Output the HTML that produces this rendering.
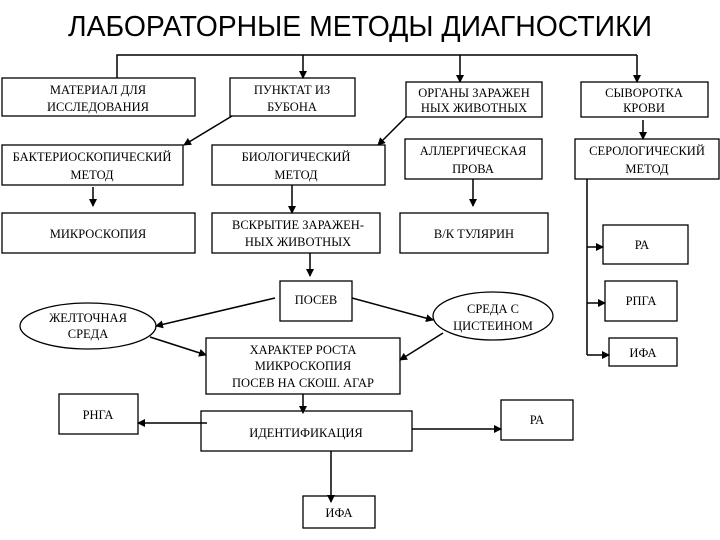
<!DOCTYPE html>
<html><head><meta charset="utf-8"><style>
html,body{margin:0;padding:0;background:#fff;width:720px;height:540px;overflow:hidden}
svg{display:block}
text{font-family:"Liberation Serif",serif;font-size:12.5px;fill:#000}
</style></head><body>
<svg width="720" height="540" viewBox="0 0 720 540" xmlns="http://www.w3.org/2000/svg">
<defs><marker id="a" markerWidth="8" markerHeight="8" refX="7" refY="4" orient="auto" markerUnits="userSpaceOnUse"><path d="M0,0 L8,4 L0,8 z" fill="#000"/></marker></defs>
<text x="360" y="36" text-anchor="middle" style="font-family:'Liberation Sans',sans-serif;font-size:29px" textLength="584" lengthAdjust="spacingAndGlyphs">ЛАБОРАТОРНЫЕ МЕТОДЫ ДИАГНОСТИКИ</text>
<g fill="none" stroke="#000" stroke-width="1.3">
<rect x="2" y="78" width="193" height="38"/>
<rect x="230" y="78" width="125" height="38"/>
<rect x="406" y="82" width="136" height="35"/>
<rect x="581" y="82" width="127" height="35"/>
<rect x="2" y="145" width="181" height="40"/>
<rect x="212" y="145" width="173" height="40"/>
<rect x="405" y="139" width="137" height="40"/>
<rect x="575" y="139" width="144" height="40"/>
<rect x="2" y="213" width="193" height="40"/>
<rect x="212" y="213" width="168" height="40"/>
<rect x="400" y="213" width="148" height="40"/>
<rect x="603" y="225" width="85" height="39"/>
<rect x="280" y="281" width="72" height="40"/>
<ellipse cx="88" cy="326" rx="68" ry="23"/>
<ellipse cx="493" cy="316" rx="60" ry="24"/>
<rect x="605" y="281" width="72" height="40"/>
<rect x="609" y="338" width="68" height="28"/>
<rect x="206" y="338" width="194" height="56"/>
<rect x="59" y="394" width="79" height="40"/>
<rect x="201" y="411" width="211" height="40"/>
<rect x="501" y="400" width="72" height="40"/>
<rect x="303" y="496" width="72" height="32"/>
</g>
<g fill="none" stroke="#000" stroke-width="1.5">
<polyline points="117,78 117,55 637,55"/>
<line x1="303" y1="55" x2="303" y2="78" marker-end="url(#a)"/>
<line x1="460" y1="55" x2="460" y2="82" marker-end="url(#a)"/>
<line x1="637" y1="55" x2="637" y2="82" marker-end="url(#a)"/>
<line x1="232" y1="116" x2="184" y2="145" marker-end="url(#a)"/>
<line x1="406" y1="117" x2="378" y2="145" marker-end="url(#a)"/>
<line x1="643" y1="120" x2="643" y2="139" marker-end="url(#a)"/>
<line x1="93" y1="187" x2="93" y2="206" marker-end="url(#a)"/>
<line x1="292" y1="185" x2="292" y2="213" marker-end="url(#a)"/>
<line x1="473" y1="179" x2="473" y2="206" marker-end="url(#a)"/>
<line x1="310" y1="253" x2="310" y2="276" marker-end="url(#a)"/>
<polyline points="587,179 587,355"/>
<line x1="587" y1="247" x2="603" y2="247" marker-end="url(#a)"/>
<line x1="587" y1="303" x2="605" y2="303" marker-end="url(#a)"/>
<line x1="587" y1="355" x2="609" y2="355" marker-end="url(#a)"/>
<line x1="275" y1="298" x2="156" y2="326" marker-end="url(#a)"/>
<line x1="150" y1="337" x2="206" y2="355" marker-end="url(#a)"/>
<line x1="352" y1="298" x2="433" y2="320" marker-end="url(#a)"/>
<line x1="443" y1="333" x2="400" y2="360" marker-end="url(#a)"/>
<line x1="303" y1="394" x2="303" y2="413" marker-end="url(#a)"/>
<line x1="207" y1="423" x2="138" y2="423" marker-end="url(#a)"/>
<line x1="412" y1="429" x2="501" y2="429" marker-end="url(#a)"/>
<line x1="331" y1="451" x2="331" y2="502" marker-end="url(#a)"/>
</g>
<g text-anchor="middle">
<text x="98" y="94">МАТЕРИАЛ ДЛЯ</text><text x="98" y="111">ИССЛЕДОВАНИЯ</text>
<text x="292" y="94">ПУНКТАТ ИЗ</text><text x="292" y="111">БУБОНА</text>
<text x="474" y="97">ОРГАНЫ ЗАРАЖЕН</text><text x="474" y="112">НЫХ ЖИВОТНЫХ</text>
<text x="644" y="97">СЫВОРОТКА</text><text x="644" y="112">КРОВИ</text>
<text x="92" y="161">БАКТЕРИОСКОПИЧЕСКИЙ</text><text x="92" y="179">МЕТОД</text>
<text x="296" y="161">БИОЛОГИЧЕСКИЙ</text><text x="296" y="179">МЕТОД</text>
<text x="473" y="155">АЛЛЕРГИЧЕСКАЯ</text><text x="473" y="173">ПРОВА</text>
<text x="647" y="155">СЕРОЛОГИЧЕСКИЙ</text><text x="647" y="173">МЕТОД</text>
<text x="98" y="238">МИКРОСКОПИЯ</text>
<text x="298" y="229">ВСКРЫТИЕ ЗАРАЖЕН-</text><text x="298" y="246">НЫХ ЖИВОТНЫХ</text>
<text x="474" y="238">В/К ТУЛЯРИН</text>
<text x="642" y="249">РА</text>
<text x="316" y="304">ПОСЕВ</text>
<text x="88" y="322">ЖЕЛТОЧНАЯ</text><text x="88" y="338">СРЕДА</text>
<text x="493" y="313">СРЕДА С</text><text x="493" y="330">ЦИСТЕИНОМ</text>
<text x="641" y="305">РПГА</text>
<text x="643" y="357">ИФА</text>
<text x="303" y="354">ХАРАКТЕР РОСТА</text><text x="303" y="370">МИКРОСКОПИЯ</text><text x="303" y="387">ПОСЕВ НА СКОШ. АГАР</text>
<text x="98" y="419">РНГА</text>
<text x="306" y="437">ИДЕНТИФИКАЦИЯ</text>
<text x="537" y="424">РА</text>
<text x="339" y="517">ИФА</text>
</g>
</svg>
</body></html>
